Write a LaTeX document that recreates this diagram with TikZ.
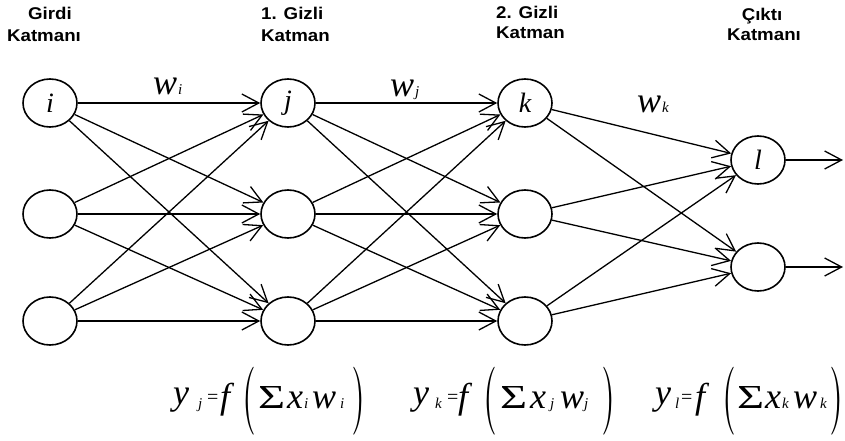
\documentclass[tikz,border=0pt]{standalone}
\usepackage{fontspec}
\usepackage{graphicx}
\setmainfont{Liberation Serif}
\newfontfamily\hdrfont{Liberation Sans}[FakeStretch=1.1]
\usetikzlibrary{arrows.meta,shapes.geometric}

\newcommand{\mvar}[1]{{\fontsize{36}{36}\selectfont\itshape #1}}
\newcommand{\msub}[1]{{\fontsize{15}{15}\selectfont\itshape #1}}
\newcommand{\nvar}[1]{{\fontsize{28}{28}\selectfont\itshape #1}}
\newcommand{\pc}[3]{\makebox[0pt][l]{\hspace*{#1}\raisebox{#2}{#3}}}
\newsavebox\pbox
\newcommand{\lpar}{\sbox\pbox{\resizebox*{14pt}{68pt}{\normalsize$\big($}}\raisebox{\dimexpr\dp\pbox-27pt\relax}{\usebox\pbox}}
\newcommand{\rpar}{\sbox\pbox{\resizebox*{14pt}{68pt}{\normalsize$\big)$}}\raisebox{\dimexpr\dp\pbox-27pt\relax}{\usebox\pbox}}
\newcommand{\bsum}{\sbox\pbox{\resizebox*{27pt}{22pt}{\fontsize{33}{33}\selectfont Σ}}\raisebox{\dp\pbox}{\usebox\pbox}}
\newcommand{\eqs}{{\fontsize{20}{20}\selectfont =}}

\begin{document}
\begin{tikzpicture}[x=1pt,y=-1pt,
  neuron/.style={draw, ellipse, line width=1.6pt, minimum width=54pt, minimum height=48pt, inner sep=0pt},
  conn/.style={line width=1.3pt, -{Straight Barb[length=17pt,width=18pt,line width=1.3pt]}},
  hdr/.style={font=\hdrfont\bfseries\fontsize{17}{17}\selectfont, inner sep=0pt},
  lbl/.style={inner sep=0pt, anchor=base west}]
\useasboundingbox (0,0) rectangle (845,441);

% layers
\node[neuron] (a1) at (50,103) {\nvar{i}};
\node[neuron] (a2) at (50,214) {};
\node[neuron] (a3) at (50,321) {};
\node[neuron] (b1) at (288,103) {\nvar{j}};
\node[neuron] (b2) at (288,214) {};
\node[neuron] (b3) at (288,321) {};
\node[neuron] (c1) at (525,103) {\nvar{k}};
\node[neuron] (c2) at (525,214) {};
\node[neuron] (c3) at (525,321) {};
\node[neuron] (d1) at (758,160) {\nvar{l}};
\node[neuron] (d2) at (758,267) {};

\coordinate (o1) at (843,160);
\coordinate (o2) at (843,267);

% connections
\foreach \s in {1,2,3}{
  \foreach \t in {1,2,3}{
    \draw[conn] (a\s) -- (b\t);
    \draw[conn] (b\s) -- (c\t);
  }
  \foreach \t in {1,2}{
    \draw[conn] (c\s) -- (d\t);
  }
}
\draw[conn] (d1) -- (o1);
\draw[conn] (d2) -- (o2);

% weight labels
\node[lbl] (wi) at (153,95) {\mvar{w}\kern1pt\msub{i}};
\node[lbl] (wj) at (390,97) {\mvar{w}\kern1pt\msub{j}};
\node[lbl] (wk) at (637,113) {\mvar{w}\kern1pt\msub{k}};

% headers
\node[hdr, anchor=base] (h1a) at (50,20) {Girdi};
\node[hdr, anchor=base] (h1b) at (44,42) {Katmanı};
\node[hdr, anchor=base west] (h2a) at (261,20) {1. Gizli};
\node[hdr, anchor=base west] (h2b) at (261,42) {Katman};
\node[hdr, anchor=base west] (h3a) at (496,19) {2. Gizli};
\node[hdr, anchor=base west] (h3b) at (496,39) {Katman};
\node[hdr, anchor=base] (h4a) at (762,21) {Çıktı};
\node[hdr, anchor=base] (h4b) at (764,41) {Katmanı};

% formulas
\node[lbl] (f1) at (173,408) {\makebox[192pt][l]{%
\pc{0pt}{4pt}{\mvar{y}}\pc{25pt}{0pt}{\msub{j}}\pc{34pt}{5pt}{\eqs}%
\pc{47pt}{0pt}{\mvar{f}}\pc{68pt}{0pt}{\lpar}\pc{85pt}{0pt}{\bsum}%
\pc{114pt}{0pt}{\mvar{x}}\pc{131pt}{0pt}{\msub{i}}%
\pc{139pt}{0pt}{\mvar{w}}\pc{167pt}{0pt}{\msub{i}}\pc{179pt}{0pt}{\rpar}}};
\node[lbl] (f2) at (413,408) {\makebox[192pt][l]{%
\pc{0pt}{4pt}{\mvar{y}}\pc{22pt}{0pt}{\msub{k}}\pc{34pt}{5pt}{\eqs}%
\pc{45pt}{0pt}{\mvar{f}}\pc{69pt}{0pt}{\lpar}\pc{87pt}{0pt}{\bsum}%
\pc{117pt}{0pt}{\mvar{x}}\pc{137pt}{0pt}{\msub{j}}%
\pc{147pt}{0pt}{\mvar{w}}\pc{171pt}{0pt}{\msub{j}}\pc{189pt}{0pt}{\rpar}}};
\node[lbl] (f3) at (655,408) {\makebox[189pt][l]{%
\pc{0pt}{4pt}{\mvar{y}}\pc{20pt}{0pt}{\msub{l}}\pc{26pt}{5pt}{\eqs}%
\pc{40pt}{0pt}{\mvar{f}}\pc{66pt}{0pt}{\lpar}\pc{82pt}{0pt}{\bsum}%
\pc{110pt}{0pt}{\mvar{x}}\pc{127pt}{0pt}{\msub{k}}%
\pc{138pt}{0pt}{\mvar{w}}\pc{165pt}{0pt}{\msub{k}}\pc{175pt}{0pt}{\rpar}}};
\end{tikzpicture}
\end{document}
